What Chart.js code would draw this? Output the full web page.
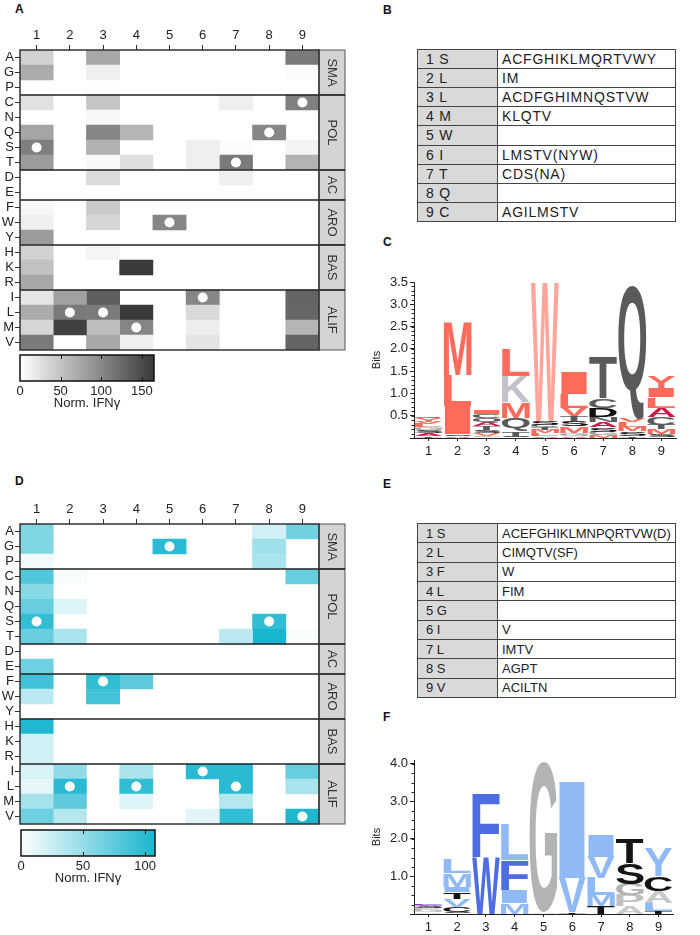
<!DOCTYPE html>
<html>
<head>
<meta charset="utf-8">
<script src="https://cdn.jsdelivr.net/npm/chart.js@4.4.0/dist/chart.umd.min.js"></script>
<style>
body { margin: 0; background: #fff; width: 700px; height: 935px; position: relative; overflow: hidden; font-family: Arial, "Liberation Sans", sans-serif; }
.lbl { position: absolute; font-weight: bold; font-size: 12px; color: #111; }
table { position: absolute; border-collapse: collapse; color: #222; table-layout: fixed; }
td { border: 1px solid #444; padding: 0 0 0 4px; white-space: nowrap; overflow: hidden; font-size: 14px; }
td.k { background: #d9d9d9; width: 71px; padding-left: 8px; }
table.b td { letter-spacing: 0.8px; }
table.e td { font-size: 13px; }
</style>
</head>
<body>
<div class="lbl" style="left:15px;top:2px">A</div>
<div class="lbl" style="left:383px;top:3px">B</div>
<div class="lbl" style="left:383px;top:235px">C</div>
<div class="lbl" style="left:15px;top:474px">D</div>
<div class="lbl" style="left:383px;top:477px">E</div>
<div class="lbl" style="left:383px;top:710px">F</div>
<script>
// rows of the heatmaps and the positions of the peptide
var residues = ['A', 'G', 'P', 'C', 'N', 'Q', 'S', 'T', 'D', 'E', 'F', 'W', 'Y', 'H', 'K', 'R', 'I', 'L', 'M', 'V'];
var positions = [1, 2, 3, 4, 5, 6, 7, 8, 9];
var groupNames = ['SMA', 'POL', 'AC', 'ARO', 'BAS', 'ALIF'];
var groupFirst = [0, 3, 8, 10, 13, 16];
var groupLast = [2, 7, 9, 12, 15, 19];

// heatmap A, Norm. IFNy (one row per residue, columns = positions 1..9)
var heatA = [
    [38, 0, 73, 0, 0, 0, 0, 0, 111],
    [70, 0, 13, 0, 0, 0, 0, 0, 3],
    [0, 0, 0, 0, 0, 0, 0, 0, 0],
    [25, 0, 48, 0, 0, 0, 13, 0, 106],
    [0, 0, 6, 0, 0, 0, 0, 0, 0],
    [75, 0, 101, 62, 0, 0, 0, 101, 0],
    [107, 0, 65, 0, 0, 13, 3, 0, 10],
    [83, 0, 6, 28, 0, 13, 111, 0, 64],
    [0, 0, 30, 0, 0, 0, 13, 0, 0],
    [0, 0, 0, 0, 0, 0, 0, 0, 0],
    [6, 0, 44, 0, 0, 0, 0, 0, 0],
    [13, 0, 34, 0, 101, 0, 0, 0, 0],
    [83, 0, 0, 0, 0, 0, 0, 0, 0],
    [38, 0, 8, 0, 0, 0, 0, 0, 0],
    [52, 0, 0, 165, 0, 0, 0, 0, 0],
    [73, 0, 0, 0, 0, 0, 0, 0, 0],
    [21, 79, 134, 0, 0, 101, 0, 0, 130],
    [70, 111, 111, 165, 0, 32, 0, 0, 128],
    [35, 160, 55, 102, 0, 14, 0, 0, 62],
    [111, 0, 73, 13, 0, 23, 0, 0, 130]
];
var nativeA = 'SLLMWITQC';
var cbarTicksA = [0, 50, 100, 150];
var cbarMaxA = 165;

// heatmap D
var heatD = [
    [60, 0, 0, 0, 0, 0, 0, 22, 67],
    [60, 0, 0, 0, 100, 0, 0, 45, 0],
    [7, 0, 0, 0, 0, 0, 0, 40, 0],
    [82, 4, 0, 0, 0, 0, 0, 0, 72],
    [56, 0, 0, 0, 0, 0, 0, 0, 0],
    [71, 16, 0, 0, 0, 0, 0, 0, 0],
    [97, 0, 0, 0, 0, 0, 0, 97, 0],
    [71, 40, 0, 0, 0, 0, 32, 108, 3],
    [0, 0, 0, 0, 0, 0, 0, 0, 0],
    [68, 0, 0, 0, 0, 0, 0, 0, 0],
    [90, 0, 97, 76, 0, 0, 0, 0, 0],
    [32, 0, 88, 0, 0, 0, 0, 0, 0],
    [0, 0, 0, 0, 0, 0, 0, 0, 0],
    [105, 0, 0, 0, 0, 0, 0, 0, 0],
    [22, 0, 0, 0, 0, 0, 0, 0, 0],
    [22, 0, 0, 0, 0, 0, 0, 0, 0],
    [18, 52, 0, 40, 0, 100, 100, 0, 72],
    [12, 100, 0, 97, 0, 0, 100, 0, 40],
    [42, 76, 0, 16, 0, 0, 35, 0, 0],
    [68, 35, 0, 0, 0, 14, 97, 0, 105]
];
var nativeD = 'SLFLGILSV';
var cbarTicksD = [0, 50, 100];
var cbarMaxD = 108;

// tables B and E
var tableB = [['1 S', 'ACFGHIKLMQRTVWY'], ['2 L', 'IM'], ['3 L', 'ACDFGHIMNQSTVW'], ['4 M', 'KLQTV'], ['5 W', ''],
    ['6 I', 'LMSTV(NYW)'], ['7 T', 'CDS(NA)'], ['8 Q', ''], ['9 C', 'AGILMSTV']];
var tableE = [['1 S', 'ACEFGHIKLMNPQRTVW(D)'], ['2 L', 'CIMQTV(SF)'], ['3 F', 'W'], ['4 L', 'FIM'], ['5 G', ''],
    ['6 I', 'V'], ['7 L', 'IMTV'], ['8 S', 'AGPT'], ['9 V', 'ACILTN']];

// sequence logos, letters bottom -> top with their heights in bits
var logoCLetters = ['TASGLVYQ', 'ASILM', 'GVSTAQCI', 'STQMKL', 'ALMTCSW', 'AGMSTVLI', 'MGSANDCT', 'TSMLVQ', 'SMTCALIVY'];
var logoCHeights = [
    [0.05, 0.06, 0.07, 0.06, 0.07, 0.06, 0.08, 0.03],
    [0.04, 0.04, 0.64, 0.70, 1.19],
    [0.05, 0.06, 0.07, 0.08, 0.09, 0.09, 0.10, 0.08],
    [0.03, 0.12, 0.30, 0.35, 0.60, 0.60],
    [0.05, 0.06, 0.07, 0.06, 0.06, 0.08, 3.10],
    [0.05, 0.07, 0.15, 0.11, 0.11, 0.19, 0.31, 0.50],
    [0.06, 0.08, 0.10, 0.12, 0.12, 0.20, 0.21, 0.94],
    [0.05, 0.10, 0.10, 0.10, 0.07, 3.00],
    [0.08, 0.12, 0.10, 0.17, 0.21, 0.23, 0.19, 0.03, 0.26]
];
var logoCTicks = [0, 0.5, 1, 1.5, 2, 2.5, 3, 3.5];

var logoFLetters = ['AGPSNE', 'SCVTIML', 'WF', 'MIFL', 'AG', 'TVI', 'TMLVI', 'APGST', 'TLACY'];
var logoFHeights = [
    [0.05, 0.05, 0.05, 0.05, 0.04, 0.03],
    [0.05, 0.14, 0.21, 0.18, 0.15, 0.35, 0.36],
    [1.50, 1.68],
    [0.30, 0.34, 0.80, 0.96],
    [0.05, 4.00],
    [0.04, 0.92, 2.60],
    [0.20, 0.30, 0.47, 0.56, 0.57],
    [0.20, 0.30, 0.30, 0.55, 0.67],
    [0.08, 0.22, 0.32, 0.38, 0.75]
];
var logoFTicks = [0, 1, 2, 3, 4];

var colorsC = { M: '#ff6b5a', L: '#ff6b5a', I: '#ff6b5a', V: '#ff6b5a', Y: '#ff6b5a', F: '#ff6b5a', W: '#ffa59c',
    K: '#c5c0cb', H: '#c5c0cb', R: '#c5c0cb', Q: '#5a5a5a', T: '#5a5a5a', C: '#5a5a5a', N: '#5a5a5a',
    D: '#111111', E: '#111111', S: '#111111', A: '#d2174a', G: '#9a9a9a', P: '#9a9a9a' };
var colorsF = { F: '#4e6de2', W: '#4e6de2', L: '#8fbaf5', I: '#8fbaf5', M: '#8fbaf5', V: '#8fbaf5', Y: '#8fbaf5',
    G: '#b3b3b3', A: '#c8c8c8', P: '#c0c0c0', T: '#141414', S: '#141414', C: '#141414',
    N: '#b7b0ea', Q: '#b7b0ea', E: '#9b2fe3', D: '#9b2fe3' };

var FONT = 'Arial, "Liberation Sans", sans-serif';
Chart.defaults.font.family = FONT;
Chart.defaults.color = '#222';

function grayOf(v) {
    var t = Math.min(v / cbarMaxA, 1);
    var g = Math.round(255 - t * (255 - 58));
    return 'rgb(' + g + ',' + g + ',' + g + ')';
}
function cyanOf(v) {
    var t = Math.min(v / cbarMaxD, 1);
    return 'rgb(' + Math.round(255 - t * 229) + ',' + Math.round(255 - t * 74) + ',' + Math.round(255 - t * 48) + ')';
}

function addCanvas(left, top, w, h) {
    var c = document.createElement('canvas');
    c.width = w; c.height = h;
    c.style.cssText = 'position:absolute;left:' + left + 'px;top:' + top + 'px;width:' + w + 'px;height:' + h + 'px';
    document.body.appendChild(c);
    return c;
}

var heatFrame = {
    id: 'heatFrame',
    afterDraw: function (chart) {
        var ctx = chart.ctx, a = chart.chartArea, x = chart.scales.x, y = chart.scales.y;
        var half = (y.getPixelForValue(1) - y.getPixelForValue(0)) / 2;
        ctx.save();
        // column numbers above the tick marks
        ctx.fillStyle = '#222';
        ctx.font = '13px ' + FONT;
        ctx.textAlign = 'center';
        ctx.textBaseline = 'middle';
        positions.forEach(function (p) {
            ctx.fillText(String(p), x.getPixelForValue(p), a.top - 15);
        });
        for (var i = 0; i < groupNames.length; i++) {
            var y0 = y.getPixelForValue(groupFirst[i]) - half;
            var y1 = y.getPixelForValue(groupLast[i]) + half;
            ctx.fillStyle = '#d4d4d4';
            ctx.fillRect(a.right, y0, 26, y1 - y0);
            ctx.strokeStyle = '#555';
            ctx.lineWidth = 1;
            ctx.strokeRect(a.right, y0, 26, y1 - y0);
            ctx.save();
            ctx.translate(a.right + 13, (y0 + y1) / 2);
            ctx.rotate(Math.PI / 2);
            ctx.fillStyle = '#333';
            ctx.fillText(groupNames[i], 0, 0);
            ctx.restore();
            if (i > 0) {
                ctx.strokeStyle = '#222';
                ctx.lineWidth = 1.5;
                ctx.beginPath();
                ctx.moveTo(a.left, y0);
                ctx.lineTo(a.right + 26, y0);
                ctx.stroke();
            }
        }
        ctx.strokeStyle = '#333';
        ctx.lineWidth = 1.5;
        ctx.strokeRect(a.left, a.top, a.right - a.left, a.bottom - a.top);
        ctx.restore();
    }
};

function heatChart(top, vals, nat, colorOf) {
    var cv = addCanvas(0, top, 350, 360);
    var datasets = positions.map(function (p, j) {
        return {
            type: 'bar',
            grouped: false,
            data: vals.map(function (row) { return row[j] > 0 ? [p - 0.5, p + 0.5] : null; }),
            backgroundColor: vals.map(function (row) { return colorOf(row[j]); }),
            borderWidth: 0,
            barPercentage: 1,
            categoryPercentage: 1
        };
    });
    datasets.push({
        type: 'scatter',
        order: -1,
        data: nat.split('').map(function (r, i) { return { x: i + 1, y: r }; }),
        pointRadius: 5,
        pointHoverRadius: 5,
        backgroundColor: '#fff',
        borderWidth: 0
    });
    return new Chart(cv, {
        type: 'bar',
        data: { labels: residues, datasets: datasets },
        options: {
            indexAxis: 'y',
            responsive: false,
            animation: false,
            events: [],
            devicePixelRatio: 1,
            layout: { padding: { left: 0, right: 31, top: 25, bottom: 10 } },
            plugins: { legend: { display: false }, tooltip: { enabled: false } },
            scales: {
                x: {
                    type: 'linear', position: 'top', min: 0.5, max: 9.5,
                    afterBuildTicks: function (s) { s.ticks = positions.map(function (v) { return { value: v }; }); },
                    afterFit: function (s) { s.height = 25; },
                    grid: { drawOnChartArea: false, tickLength: 5, color: '#333' },
                    border: { display: false },
                    ticks: { display: false }
                },
                y: {
                    type: 'category', offset: true,
                    afterFit: function (s) { s.width = 20; },
                    grid: { offset: false, drawOnChartArea: false, tickLength: 5, color: '#333' },
                    border: { display: false },
                    ticks: { font: { size: 13 }, color: '#222', padding: 1, autoSkip: false }
                }
            }
        },
        plugins: [heatFrame]
    });
}

function colorBar(left, top, padL, padR, maxV, ticks, endColor) {
    var cv = addCanvas(left, top, 175, 61);
    var barPlugin = {
        id: 'cbar',
        beforeDatasetsDraw: function (chart) {
            var ctx = chart.ctx, a = chart.chartArea, x = chart.scales.x;
            var g = ctx.createLinearGradient(a.left, 0, a.right, 0);
            g.addColorStop(0, '#ffffff');
            g.addColorStop(1, endColor);
            ctx.save();
            ctx.fillStyle = g;
            ctx.fillRect(a.left, a.top, a.right - a.left, a.bottom - a.top);
            ctx.strokeStyle = '#111';
            ctx.lineWidth = 1.5;
            ctx.strokeRect(a.left, a.top, a.right - a.left, a.bottom - a.top);
            ctx.lineWidth = 1;
            ticks.forEach(function (v) {
                if (v === 0) return;
                var px = Math.round(x.getPixelForValue(v)) + 0.5;
                ctx.beginPath();
                ctx.moveTo(px, a.top); ctx.lineTo(px, a.top + 4);
                ctx.moveTo(px, a.bottom); ctx.lineTo(px, a.bottom - 4);
                ctx.stroke();
            });
            ctx.restore();
        }
    };
    return new Chart(cv, {
        type: 'scatter',
        data: { datasets: [] },
        options: {
            responsive: false,
            animation: false,
            events: [],
            devicePixelRatio: 1,
            layout: { padding: { left: padL, right: padR, top: 5, bottom: 0 } },
            plugins: { legend: { display: false }, tooltip: { enabled: false } },
            scales: {
                x: {
                    type: 'linear', min: 0, max: maxV,
                    afterBuildTicks: function (s) { s.ticks = ticks.map(function (v) { return { value: v }; }); },
                    afterFit: function (s) { s.height = 30; },
                    grid: { display: false, drawTicks: false },
                    border: { display: false },
                    ticks: { font: { size: 13 }, color: '#222', padding: 3, maxRotation: 0 },
                    title: { display: true, text: 'Norm. IFNγ', font: { size: 13 }, color: '#222', padding: 0 }
                },
                y: { display: false, min: 0, max: 1 }
            }
        },
        plugins: [barPlugin]
    });
}

function logoChart(top, height, padTop, padRight, letters, heights, colors, yMax, majorTicks, minorStep) {
    var cv = addCanvas(370, top, 320, height);
    var nLayers = Math.max.apply(null, letters.map(function (s) { return s.length; }));
    var datasets = [];
    for (var k = 0; k < nLayers; k++) {
        datasets.push({
            data: heights.map(function (hh) { return hh[k] || 0; }),
            backgroundColor: 'rgba(0,0,0,0)',
            borderWidth: 0,
            barPercentage: 0.96,
            categoryPercentage: 1
        });
    }
    var letterPlugin = {
        id: 'letters',
        afterDatasetsDraw: function (chart) {
            var ctx = chart.ctx;
            ctx.save();
            ctx.font = 'bold 100px ' + FONT;
            ctx.textAlign = 'left';
            ctx.textBaseline = 'alphabetic';
            for (var k = 0; k < nLayers; k++) {
                chart.getDatasetMeta(k).data.forEach(function (el, i) {
                    var ch = letters[i][k];
                    if (!ch) return;
                    var p = el.getProps(['x', 'y', 'base', 'width'], true);
                    var h = p.base - p.y;
                    if (h < 0.4) return;
                    var m = ctx.measureText(ch);
                    var gw = m.actualBoundingBoxLeft + m.actualBoundingBoxRight;
                    var gh = m.actualBoundingBoxAscent + m.actualBoundingBoxDescent;
                    ctx.save();
                    ctx.translate(p.x - p.width / 2, p.y);
                    ctx.scale(p.width / gw, h / gh);
                    ctx.fillStyle = colors[ch] || '#888';
                    ctx.fillText(ch, m.actualBoundingBoxLeft, m.actualBoundingBoxAscent);
                    ctx.restore();
                });
            }
            // minor ticks on the bits axis
            var a = chart.chartArea, y = chart.scales.y;
            ctx.strokeStyle = '#222';
            ctx.lineWidth = 1;
            ctx.beginPath();
            for (var v = minorStep; v < yMax + 1e-6; v += minorStep) {
                var py = Math.round(y.getPixelForValue(v)) + 0.5;
                ctx.moveTo(a.left - 2.5, py);
                ctx.lineTo(a.left, py);
            }
            ctx.stroke();
            ctx.restore();
        }
    };
    return new Chart(cv, {
        type: 'bar',
        data: { labels: positions.map(String), datasets: datasets },
        options: {
            responsive: false,
            animation: false,
            events: [],
            devicePixelRatio: 1,
            layout: { padding: { left: 0, right: padRight, top: padTop, bottom: 0 } },
            plugins: { legend: { display: false }, tooltip: { enabled: false } },
            scales: {
                x: {
                    stacked: true,
                    afterFit: function (s) { s.height = 22; },
                    grid: { drawOnChartArea: false, tickLength: 3, offset: false, color: '#222' },
                    border: { color: '#222' },
                    ticks: { font: { size: 13 }, color: '#222', padding: 3 }
                },
                y: {
                    stacked: true, min: 0, max: yMax,
                    afterBuildTicks: function (s) { s.ticks = majorTicks.map(function (v) { return { value: v }; }); },
                    afterFit: function (s) { s.width = 44; },
                    grid: { drawOnChartArea: false, tickLength: 4, color: '#222' },
                    border: { color: '#222' },
                    ticks: { font: { size: 13 }, color: '#222', padding: 2, callback: function (v) { return v === 0 ? '' : v.toFixed(1); } },
                    title: { display: true, text: 'Bits', font: { size: 11 }, color: '#222', padding: 0 }
                }
            }
        },
        plugins: [letterPlugin]
    });
}

function makeTable(rows, left, top, height, cls) {
    var t = document.createElement('table');
    t.className = cls;
    t.style.cssText = 'left:' + left + 'px;top:' + top + 'px;width:259px;height:' + height + 'px';
    rows.forEach(function (r) {
        var tr = t.insertRow();
        var a = tr.insertCell();
        a.className = 'k';
        a.textContent = r[0];
        var b = tr.insertCell();
        b.textContent = r[1];
    });
    document.body.appendChild(t);
}

heatChart(0, heatA, nativeA, grayOf);
colorBar(0, 350, 20, 21, cbarMaxA, cbarTicksA, 'rgb(58,58,58)');
heatChart(474, heatD, nativeD, cyanOf);
colorBar(0, 825, 21, 20, cbarMaxD, cbarTicksD, 'rgb(26,181,207)');

makeTable(tableB, 417, 49, 173, 'b');
makeTable(tableE, 417, 523, 175, 'e');

logoChart(250, 210, 32, 14, logoCLetters, logoCHeights, colorsC, 3.5, logoCTicks, 0.1);
logoChart(740, 196, 20, 17, logoFLetters, logoFHeights, colorsF, 4.1, logoFTicks, 0.25);
</script>
</body>
</html>
